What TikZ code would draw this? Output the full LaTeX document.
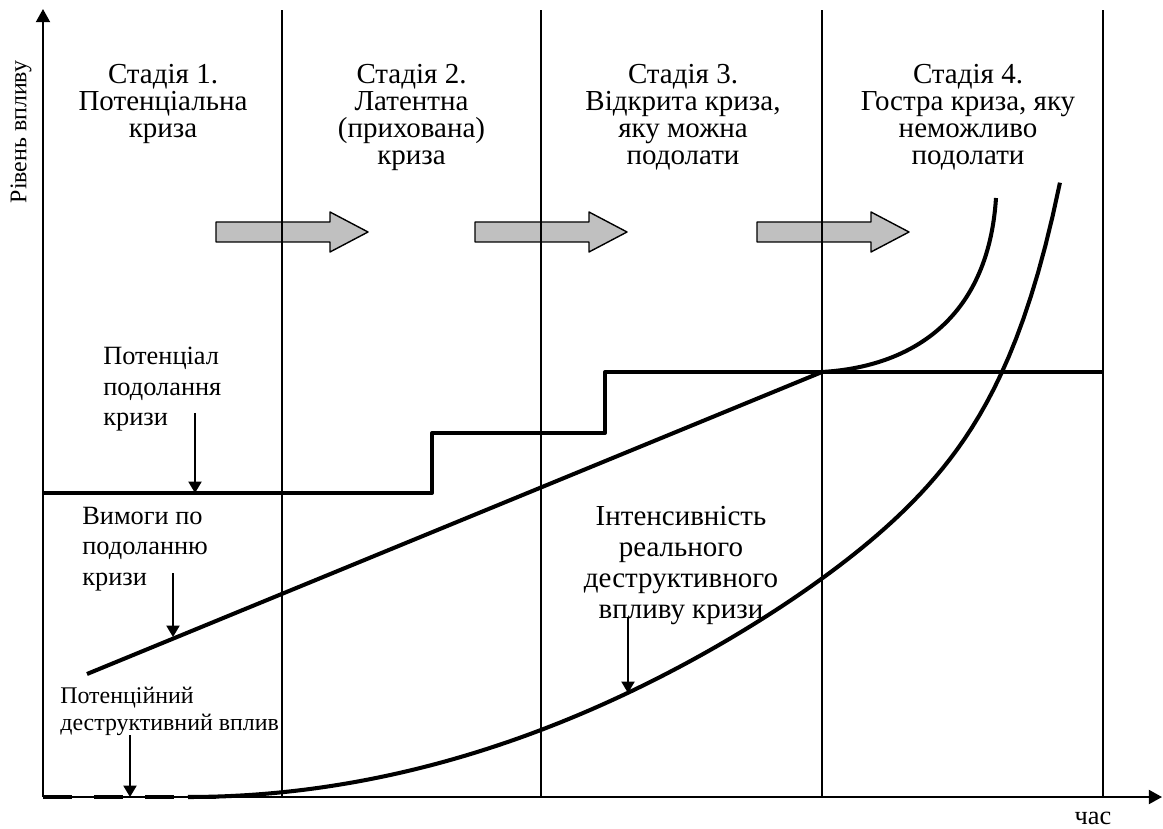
\documentclass[tikz,border=0pt]{standalone}
\usepackage{fontspec}
\setmainfont{Liberation Serif}
\usetikzlibrary{arrows.meta}
\definecolor{arrowgray}{RGB}{192,192,192}
\tikzset{
  curve/.style={line width=2.3pt},
  divider/.style={line width=0.8pt},
  txt/.style={font=\fontsize{15}{17.2}\selectfont, inner sep=0pt},
  smalltxt/.style={font=\fontsize{13.6}{15.5}\selectfont, inner sep=0pt},
  stage/.style={font=\fontsize{16.5}{15.5}\selectfont, inner sep=0pt, anchor=north, align=center},
  bigtxt/.style={font=\fontsize{16.5}{17.6}\selectfont, inner sep=0pt, anchor=north, align=center},
  pointer/.style={-{Triangle[length=6.5pt,width=7.5pt]}, line width=0.9pt},
}
\begin{document}
\begin{tikzpicture}[>={Triangle[length=7.5pt,width=8pt]}, line join=round]
\useasboundingbox (-0.86,-0.62) rectangle (22.4,15.94);
% stage arrows
\foreach \x in {3.46,8.64,14.28}
  \draw[fill=arrowgray, line width=0.8pt] (\x,11.1) -- ++(2.28,0) -- ++(0,-0.2) -- ++(0.76,0.4)
    -- ++(-0.76,0.4) -- ++(0,-0.2) -- ++(-2.28,0) -- cycle;
% stage borders
\draw[divider] (4.78,0) -- (4.78,15.74);
\draw[divider] (9.96,0) -- (9.96,15.74);
\draw[divider] (15.58,0) -- (15.58,15.74);
\draw[divider] (21.2,0) -- (21.2,15.74);
% axes
\draw[->,line width=1.1pt] (0,0) -- (0,15.76);
\draw[->,line width=1.1pt] (0,0) -- (22.38,0);
\node[txt] (time) at (21,-0.42) {час};
\node[smalltxt, rotate=90] (level) at (-0.44,13.3) {Рівень впливу};
% stages
\node[stage] (st1) at (2.4,14.67) {Стадія 1.\\Потенціальна\\криза};
\node[stage] (st2) at (7.37,14.67) {Стадія 2.\\Латентна\\(прихована)\\криза};
\node[stage] (st3) at (12.8,14.67) {Стадія 3.\\Відкрита криза,\\яку можна\\подолати};
\node[stage] (st4) at (18.5,14.67) {Стадія 4.\\Гостра криза, яку\\неможливо\\подолати};
% potential to overcome
\draw[curve] (0,6.08) -- (7.78,6.08) -- (7.78,7.28) -- (11.24,7.28) -- (11.24,8.5) -- (21.2,8.5);
% requirements
\coordinate (meet) at (15.58,8.5);
\draw[curve] (0.88,2.46) -- (meet);
\draw[curve] (meet) .. controls (17.3,8.6) and (18.9,9.5) .. (19.06,11.98);
% real impact
\draw[curve, dash pattern=on 0.58cm off 0.44cm] (0,0) -- (3.46,0);
\draw[curve] plot[domain=2.9:20.34, samples=120]
  (\x, {0.0269*(\x-2.9)^2 + 1.37*exp(0.947*(\x-19.18))});
% labels
\node[txt, anchor=north west, align=left] (pot) at (1.2,9.0) {Потенціал\\подолання\\кризи};
\coordinate (potA) at (3.04,7.68);
\coordinate (potB) at (3.04,6.08);
\draw[pointer] (potA) -- (potB);
\node[txt, anchor=north west, align=left] (req) at (0.78,5.8) {Вимоги по\\подоланню\\кризи};
\coordinate (reqA) at (2.6,4.48);
\coordinate (reqB) at (2.6,3.2);
\draw[pointer] (reqA) -- (reqB);
\node[smalltxt, anchor=north west, align=left] (pdv) at (0.34,2.2) {Потенційний\\деструктивний вплив};
\coordinate (pdvA) at (1.74,1.24);
\coordinate (pdvB) at (1.74,0);
\draw[pointer] (pdvA) -- (pdvB);
\node[bigtxt] (real) at (12.76,5.82) {Інтенсивність\\реального\\деструктивного\\впливу кризи};
\coordinate (realA) at (11.7,3.6);
\coordinate (realB) at (11.7,2.08);
\draw[pointer] (realA) -- (realB);
\end{tikzpicture}
\end{document}
